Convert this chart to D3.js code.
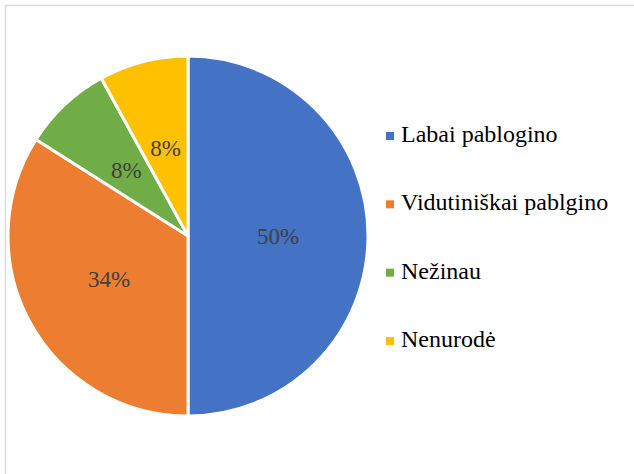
<!DOCTYPE html>
<html>
<head>
<meta charset="utf-8">
<script src="https://cdn.jsdelivr.net/npm/d3@7"></script>
<style>
  body { margin: 0; background: #fff; }
</style>
</head>
<body>
<svg id="grafikas" width="634" height="474"></svg>
<script>
// atsakymai
const kategorijos = ["Labai pablogino", "Vidutiniškai pablgino", "Nežinau", "Nenurodė"];
const procentai = [50, 34, 8, 8];
const spalvos = ["#4472C4", "#ED7D31", "#70AD47", "#FFC000"];

const sriftas = "'Liberation Serif', 'DejaVu Serif', serif";

const svg = d3.select("#grafikas");
const cx = 188, cy = 236, r = 180;

// remelis
svg.append("rect")
    .attr("x", 5.5).attr("y", 5.5)
    .attr("width", 660).attr("height", 500)
    .attr("fill", "none")
    .attr("stroke", "#d9d9d9")
    .attr("stroke-width", 1.5);

const spalva = d3.scaleOrdinal().domain(kategorijos).range(spalvos);

const pie = d3.pie().sort(null).value((d) => d.v);
const duomenys = pie(kategorijos.map((k, i) => ({k: k, v: procentai[i]})));

const arc = d3.arc().innerRadius(0).outerRadius(r);

const g = svg.append("g").attr("transform", `translate(${cx},${cy})`);

g.selectAll("path")
    .data(duomenys)
    .enter().append("path")
        .attr("d", arc)
        .attr("fill", (d) => spalva(d.data.k))
        .attr("stroke", "#fff")
        .attr("stroke-width", 3)
        .attr("stroke-linejoin", "round");

g.selectAll("text.zyme")
    .data(duomenys)
    .enter().append("text")
        .attr("class", "zyme")
        .attr("transform", (d) => `translate(${arc.centroid(d)})`)
        .attr("text-anchor", "middle")
        .attr("dy", "0.33em")
        .attr("font-family", sriftas)
        .attr("font-size", 23)
        .attr("fill", "#404040")
        .text((d) => d.data.v + "%");

// legenda
const legendaY = d3.scalePoint().domain(kategorijos).range([142, 347]);

const eilute = svg.append("g").selectAll("g")
    .data(kategorijos)
    .enter().append("g")
        .attr("transform", (d) => `translate(0,${legendaY(d)})`);

eilute.append("rect")
    .attr("x", 386).attr("y", -10)
    .attr("width", 8).attr("height", 8)
    .attr("fill", (d) => spalva(d));

eilute.append("text")
    .attr("x", 401).attr("y", 0)
    .attr("font-family", sriftas)
    .attr("font-size", 24)
    .attr("fill", "#000")
    .text((d) => d);
</script>
</body>
</html>
